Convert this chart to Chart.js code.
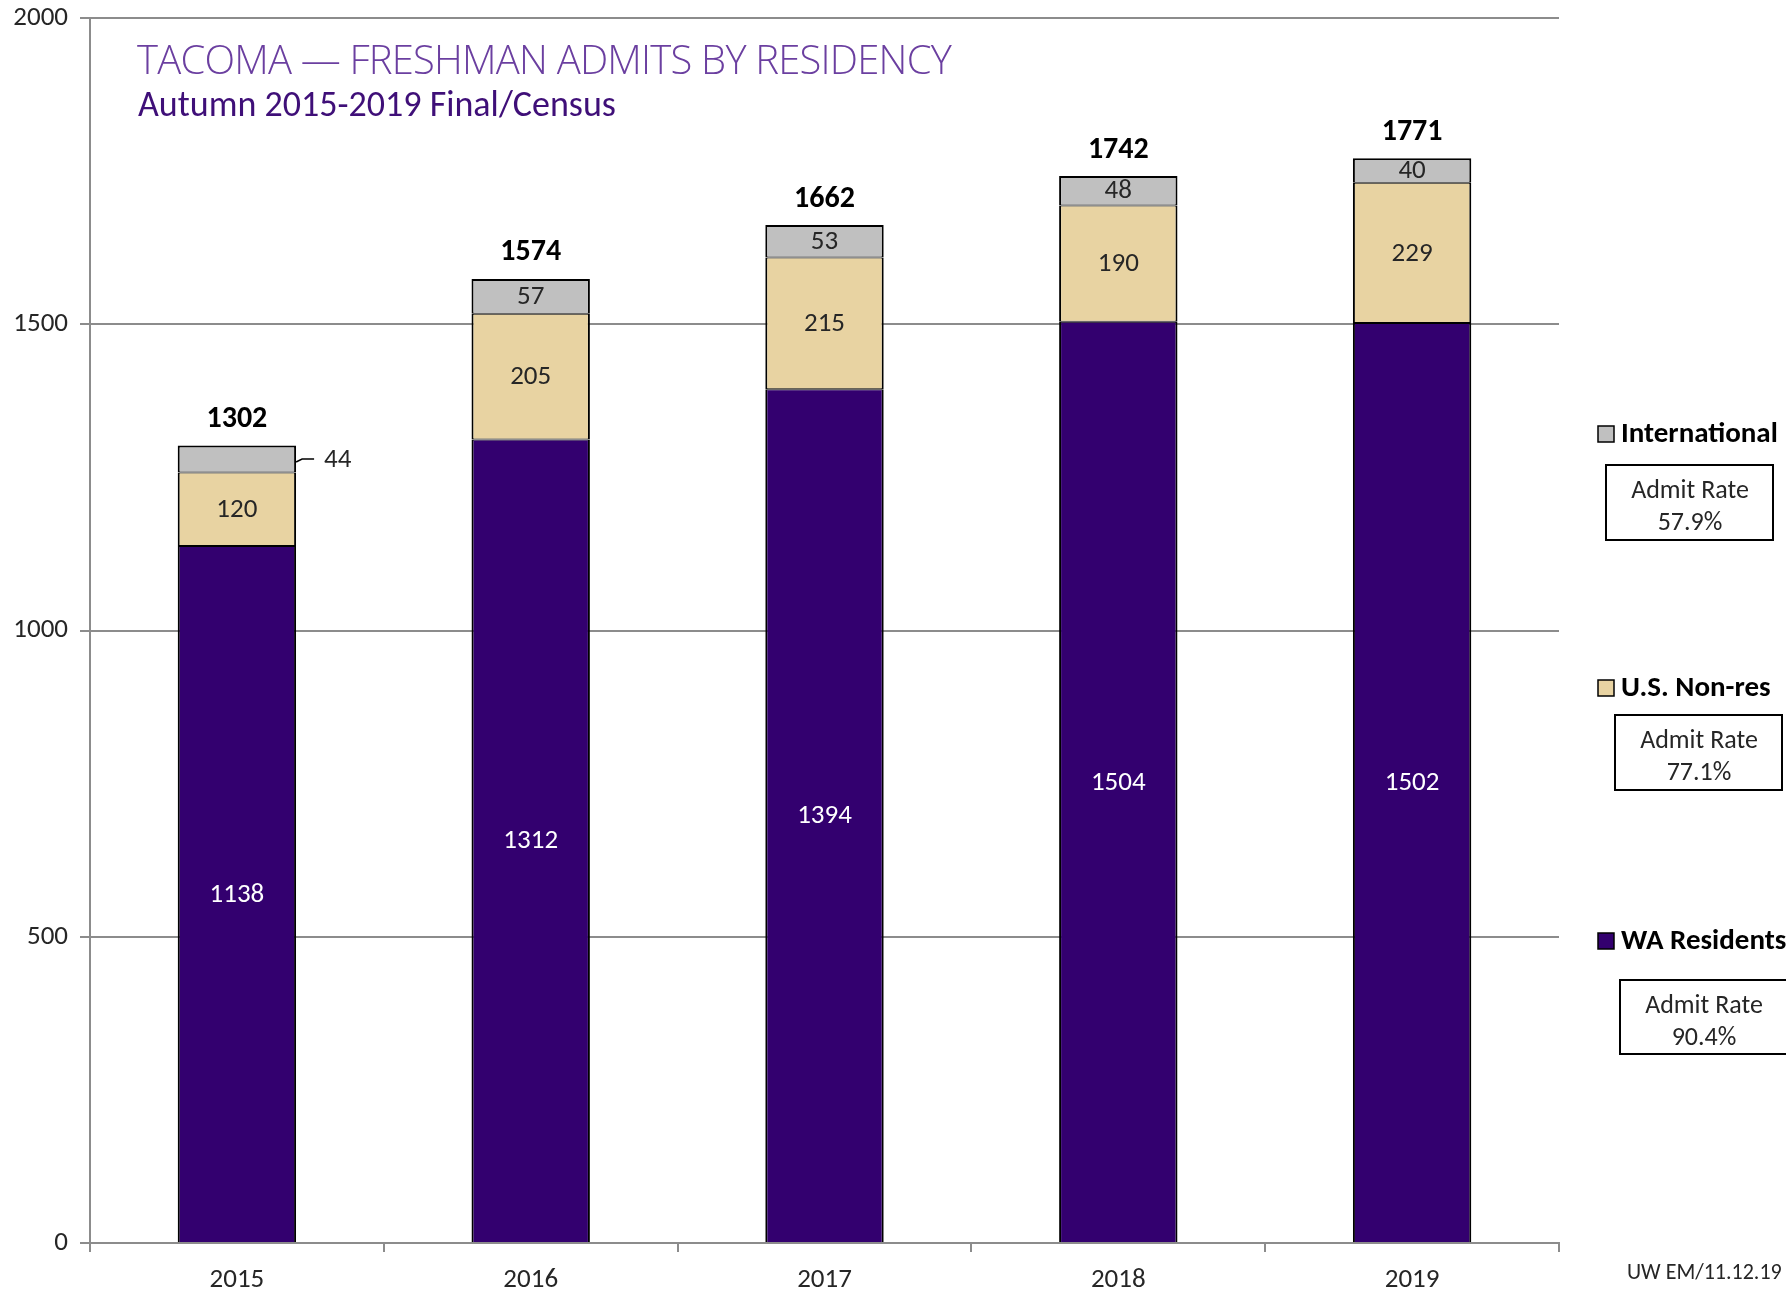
<!DOCTYPE html>
<html><head><meta charset="utf-8">
<script src="https://cdn.jsdelivr.net/npm/chart.js@4.4.1/dist/chart.umd.min.js"></script>
<style>html,body{margin:0;padding:0;background:#fff;} #wrap{width:1786px;height:1293px;position:relative;}</style>
</head><body><div id="wrap"><canvas id="c" width="1786" height="1293"></canvas></div>
<script>
const years = ['2015','2016','2017','2018','2019'];
const waResidents = [1138, 1312, 1394, 1504, 1502];
const usNonRes = [120, 205, 215, 190, 229];
const international = [44, 57, 53, 48, 40];
const totals = [1302, 1574, 1662, 1742, 1771];
const seriesNames = ['WA Residents', 'U.S. Non-res', 'International'];
const admitRates = ['90.4%', '77.1%', '57.9%'];
const titleText = 'TACOMA \u2014 FRESHMAN ADMITS BY RESIDENCY';
const subtitleText = 'Autumn 2015-2019 Final/Census';
const footerText = 'UW EM/11.12.19';

const FONT = 'Carlito, Lato, "Open Sans", sans-serif';
const colors = ['#33006F', '#E8D3A2', '#C0C0C0'];
const labelColors = ['#FFFFFF', '#262626', '#262626'];
const borders = [
  {left: 2, right: 2, top: 1, bottom: 0},
  {left: 2, right: 2, top: 1, bottom: 1},
  {left: 2, right: 2, top: 2, bottom: 1}
];
const GRID = '#8c8c8c';

const overlay = {
  id: 'overlay',
  afterDatasetsDraw(chart) {
    const ctx = chart.ctx;
    ctx.save();
    // segment labels
    chart.data.datasets.forEach((ds, i) => {
      const meta = chart.getDatasetMeta(i);
      meta.data.forEach((el, j) => {
        const v = ds.data[j];
        const cy = (el.y + el.base) / 2;
        ctx.font = '27px ' + FONT;
        ctx.textBaseline = 'middle';
        if (i === 2 && j === 0) {
          const right = el.x + el.width / 2;
          ctx.strokeStyle = '#000';
          ctx.lineWidth = 1.5;
          ctx.beginPath();
          ctx.moveTo(right, cy + 3);
          ctx.lineTo(right + 6, cy);
          ctx.lineTo(right + 18, cy);
          ctx.stroke();
          ctx.fillStyle = '#262626';
          ctx.textAlign = 'left';
          ctx.fillText(String(v), right + 28, cy + 1);
        } else {
          ctx.fillStyle = labelColors[i];
          ctx.textAlign = 'center';
          ctx.fillText(String(v), el.x, cy + 1);
        }
      });
    });
    // totals
    const topMeta = chart.getDatasetMeta(2);
    topMeta.data.forEach((el, j) => {
      ctx.font = 'bold 30px ' + FONT;
      ctx.fillStyle = '#000';
      ctx.textAlign = 'center';
      ctx.textBaseline = 'middle';
      ctx.fillText(String(totals[j]), el.x, el.y - 26);
    });
    // title
    ctx.textAlign = 'left';
    ctx.textBaseline = 'middle';
    ctx.fillStyle = '#6b3fa0';
    ctx.font = '300 40px "Open Sans", sans-serif';
    try { ctx.letterSpacing = '-0.8px'; } catch (e) {}
    ctx.fillText(titleText, 137, 63);
    try { ctx.letterSpacing = '0px'; } catch (e) {}
    ctx.fillStyle = '#3f0f78';
    ctx.font = '36px ' + FONT;
    ctx.fillText(subtitleText, 138, 107);
    // legend
    const items = [
      {idx: 2, sqY: 434, box: [1606, 465, 167, 75]},
      {idx: 1, sqY: 688, box: [1615, 715, 167, 75]},
      {idx: 0, sqY: 941, box: [1620, 980, 180, 74]}
    ];
    items.forEach(it => {
      ctx.fillStyle = colors[it.idx];
      ctx.strokeStyle = '#000';
      ctx.lineWidth = 1.5;
      ctx.fillRect(1598, it.sqY - 8, 16, 16);
      ctx.strokeRect(1598, it.sqY - 8, 16, 16);
      ctx.fillStyle = '#000';
      ctx.font = 'bold 29px ' + FONT;
      ctx.textAlign = 'left';
      ctx.fillText(seriesNames[it.idx], 1621, it.sqY + 1);
      const [bx, by, bw, bh] = it.box;
      ctx.lineWidth = 2;
      ctx.strokeRect(bx, by, bw, bh);
      ctx.fillStyle = '#262626';
      ctx.font = '26px ' + FONT;
      ctx.textAlign = 'center';
      const cx = bx + 84;
      ctx.fillText('Admit Rate', cx, by + 26);
      ctx.fillText(admitRates[it.idx], cx, by + 58);
    });
    // footer
    ctx.fillStyle = '#262626';
    ctx.font = '22px ' + FONT;
    ctx.textAlign = 'left';
    ctx.fillText(footerText, 1627, 1273);
    ctx.restore();
  }
};

new Chart(document.getElementById('c'), {
  type: 'bar',
  data: {
    labels: years,
    datasets: [
      {label: seriesNames[0], data: waResidents, backgroundColor: colors[0], borderWidth: borders[0]},
      {label: seriesNames[1], data: usNonRes, backgroundColor: colors[1], borderWidth: borders[1]},
      {label: seriesNames[2], data: international, backgroundColor: colors[2], borderWidth: borders[2]}
    ].map(d => Object.assign(d, {borderColor: '#000', borderSkipped: false, categoryPercentage: 1, barPercentage: 0.403}))
  },
  options: {
    responsive: false,
    animation: false,
    devicePixelRatio: 1,
    layout: {padding: {top: 18, right: 227, left: 0, bottom: 0}},
    plugins: {legend: {display: false}, tooltip: {enabled: false}, title: {display: false}},
    scales: {
      x: {
        stacked: true,
        grid: {display: true, offset: true, drawOnChartArea: false, drawTicks: true, tickLength: 9, color: GRID, lineWidth: 2},
        border: {display: true, color: GRID, width: 2},
        ticks: {font: {family: FONT, size: 27}, color: '#262626', padding: 12},
        afterFit: s => { s.height = 50; s.paddingLeft = 0; s.paddingRight = 0; }
      },
      y: {
        stacked: true,
        min: 0, max: 2000,
        ticks: {stepSize: 500, font: {family: FONT, size: 27}, color: '#262626', padding: 12, callback: v => String(v)},
        grid: {color: GRID, lineWidth: 2, tickLength: 10},
        border: {display: true, color: GRID, width: 2},
        afterFit: s => { s.width = 90; s.paddingTop = 0; s.paddingBottom = 0; }
      }
    }
  },
  plugins: [overlay]
});
</script>
</body></html>
